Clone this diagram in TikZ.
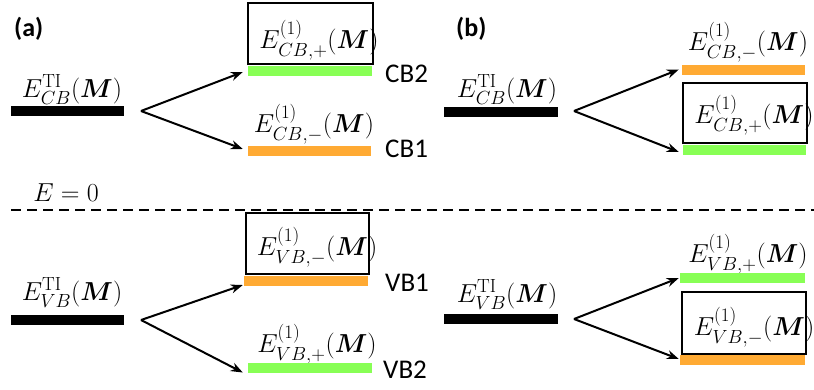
\RequirePackage{fix-cm}
\documentclass[tikz,border=0pt]{standalone}
\usepackage{amsmath}
\usepackage{fontspec}
\usepackage{bm}
\setsansfont{Carlito}
\DeclareMathSizes{26}{26}{19}{15}
\usetikzlibrary{arrows.meta}
\definecolor{lvgreen}{RGB}{136,255,85}
\definecolor{lvorange}{RGB}{255,170,51}
\tikzset{
 levelbar/.style={rectangle, inner sep=0pt, minimum height=10pt, draw=none},
 eqn/.style={inner sep=0pt, anchor=base, font=\fontsize{26}{30}\selectfont},
 bandname/.style={inner sep=0pt, anchor=base west, font=\sffamily\fontsize{27}{32}\selectfont},
 panel/.style={inner sep=0pt, anchor=base west, font=\sffamily\bfseries\fontsize{26}{30}\selectfont},
 splitarrow/.style={-{Stealth[length=12pt,width=9pt]}, line width=2pt},
 framebox/.style={rectangle, draw=black, line width=1.4pt, inner sep=0pt},
}
\begin{document}
\begin{tikzpicture}[x=1pt,y=-1pt]
\useasboundingbox (0,0) rectangle (814,389);

% panel labels
\node[panel] (pa) at (14,36) {(a)};
\node[panel] (pb) at (456,36) {(b)};

% zero line
\node[eqn] (ezero) at (66,201) {$E=0$};
\coordinate (zl) at (11,210);
\coordinate (zr) at (814,210);
\draw[line width=2pt, dash pattern=on 10pt off 6pt] (zl) -- (zr);

%%%%%% panel (a), conduction bands
\node[levelbar, fill=black, minimum width=113pt] (kA1) at (67.5,111) {};
\node[eqn] (tA1) at (72,97) {$E^{\mathrm{TI}}_{CB}(\bm{M})$};
\node[framebox, minimum width=125pt, minimum height=61pt] (bA1) at (310.5,33.5) {};
\node[eqn] (uA1) at (319,48) {$E^{(1)}_{CB,+}(\bm{M})$};
\node[levelbar, fill=lvgreen, minimum width=124pt] (gA1) at (310,71) {};
\node[eqn] (dA1) at (314,132) {$E^{(1)}_{CB,-}(\bm{M})$};
\node[levelbar, fill=lvorange, minimum width=123pt] (oA1) at (309.5,151) {};
\node[bandname] (cb2) at (385,82) {CB2};
\node[bandname] (cb1) at (385,157) {CB1};
\coordinate (sA1) at (141,111);
\draw[splitarrow] (sA1) -- ([xshift=-5pt,yshift=-1pt]gA1.west);
\draw[splitarrow] (sA1) -- ([xshift=-5pt,yshift=2pt]oA1.west);

%%%%%% panel (a), valence bands
\node[levelbar, fill=black, minimum width=113pt] (kA2) at (67.5,320) {};
\node[eqn] (tA2) at (72,300) {$E^{\mathrm{TI}}_{VB}(\bm{M})$};
\node[framebox, minimum width=123pt, minimum height=61pt] (bA2) at (307.5,243.5) {};
\node[eqn] (uA2) at (317,255) {$E^{(1)}_{VB,-}(\bm{M})$};
\node[levelbar, fill=lvorange, minimum width=124pt] (oA2) at (306,281) {};
\node[eqn] (dA2) at (317,352) {$E^{(1)}_{VB,+}(\bm{M})$};
\node[levelbar, fill=lvgreen, minimum width=124pt] (gA2) at (310,367.5) {};
\node[bandname] (vb1) at (385,291) {VB1};
\node[bandname] (vb2) at (383,378) {VB2};
\coordinate (sA2) at (141,320);
\draw[splitarrow] (sA2) -- ([xshift=-1pt,yshift=-4pt]oA2.west);
\draw[splitarrow] (sA2) -- ([xshift=-5pt,yshift=-5pt]gA2.west);

%%%%%% panel (b), conduction bands
\node[levelbar, fill=black, minimum width=114pt] (kB1) at (501,111.5) {};
\node[eqn] (tB1) at (507,97) {$E^{\mathrm{TI}}_{CB}(\bm{M})$};
\node[eqn] (uB1) at (748,50) {$E^{(1)}_{CB,-}(\bm{M})$};
\node[levelbar, fill=lvorange, minimum width=123pt] (oB1) at (743.5,69.5) {};
\node[framebox, minimum width=124pt, minimum height=60pt] (bB1) at (745,113) {};
\node[eqn] (dB1) at (754,123) {$E^{(1)}_{CB,+}(\bm{M})$};
\node[levelbar, fill=lvgreen, minimum width=123pt] (gB1) at (744.5,150) {};
\coordinate (sB1) at (574,111);
\draw[splitarrow] (sB1) -- ([xshift=-3pt]oB1.west);
\draw[splitarrow] (sB1) -- ([xshift=-4pt,yshift=-2pt]gB1.west);

%%%%%% panel (b), valence bands
\node[levelbar, fill=black, minimum width=114pt] (kB2) at (501,319) {};
\node[eqn] (tB2) at (507,302) {$E^{\mathrm{TI}}_{VB}(\bm{M})$};
\node[eqn] (uB2) at (748,262) {$E^{(1)}_{VB,+}(\bm{M})$};
\node[levelbar, fill=lvgreen, minimum width=125pt] (gB2) at (742.5,277.5) {};
\node[framebox, minimum width=124pt, minimum height=62pt] (bB2) at (744,323) {};
\node[eqn] (dB2) at (754,335) {$E^{(1)}_{VB,-}(\bm{M})$};
\node[levelbar, fill=lvorange, minimum width=125pt] (oB2) at (742.5,360) {};
\coordinate (sB2) at (574,319);
\draw[splitarrow] (sB2) -- ([xshift=-1pt,yshift=-0.5pt]gB2.west);
\draw[splitarrow] (sB2) -- ([xshift=-1pt,yshift=1pt]oB2.west);
\end{tikzpicture}
\end{document}
